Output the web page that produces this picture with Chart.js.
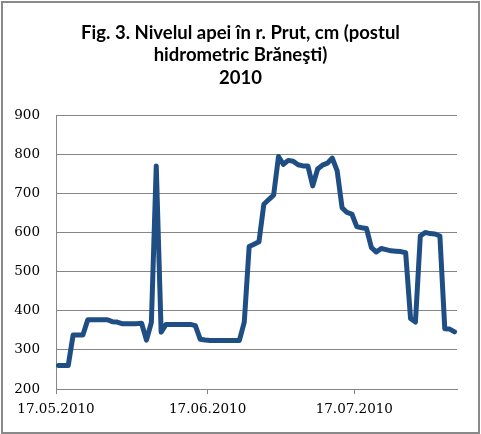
<!DOCTYPE html>
<html>
<head>
<meta charset="utf-8">
<script src="https://cdn.jsdelivr.net/npm/chart.js@4"></script>
<style>
  html, body { margin: 0; padding: 0; background: #fff; }
  canvas { display: block; }
</style>
</head>
<body>
<canvas id="c" width="481" height="434"></canvas>
<script>
// Daily water level (cm), starting 17.05.2010
const startDate = '17.05.2010';
const levels = [
  260, 260, 260, 338, 338, 338, 377, 377, 377, 377,
  377, 372, 371, 367, 367, 367, 367, 368, 325, 370,
  770, 345, 365, 365, 365, 365, 365, 365, 362, 327,
  325, 324, 324, 324, 324, 324, 324, 324, 371, 564,
  570, 576, 672, 684, 695, 794, 774, 784, 782, 773,
  770, 770, 719, 762, 772, 777, 790, 757, 663, 651,
  647, 615, 612, 610, 561, 550, 559, 556, 553, 552,
  551, 548, 380, 371, 591, 600, 597, 596, 591, 354,
  353, 346
];
const tickDays = [0, 31, 61];
const tickLabels = ['17.05.2010', '17.06.2010', '17.07.2010'];
const yTicks = [200, 300, 400, 500, 600, 700, 800, 900];
const titleLines = ['Fig. 3. Nivelul apei în r. Prut, cm (postul', 'hidrometric Brăneşti)', '2010'];

const points = levels.map((v, i) => ({ x: i + 0.5, y: v }));

const frame = {
  id: 'frame',
  afterDraw(chart) {
    const ctx = chart.ctx;
    ctx.save();
    // title, centered on the whole picture
    ctx.fillStyle = '#000';
    ctx.font = 'bold 18.5px Lato';
    ctx.textAlign = 'center';
    ctx.textBaseline = 'alphabetic';
    titleLines.forEach((t, i) => ctx.fillText(t, chart.width / 2, 38.5 + i * 22.5));
    // outer frame
    ctx.strokeStyle = '#898989';
    ctx.lineWidth = 2;
    ctx.strokeRect(2, 2, 477, 431);
    ctx.restore();
  }
};

new Chart(document.getElementById('c'), {
  type: 'line',
  data: {
    datasets: [{
      data: points,
      borderColor: '#1F4E84',
      borderWidth: 5,
      pointRadius: 0,
      tension: 0,
      fill: false,
      borderJoinStyle: 'round',
      borderCapStyle: 'round'
    }]
  },
  options: {
    responsive: false,
    animation: false,
    devicePixelRatio: 1,
    layout: { padding: { left: 0, right: 24, top: 115, bottom: 0 } },
    plugins: {
      legend: { display: false },
      tooltip: { enabled: false },
      title: { display: false }
    },
    scales: {
      x: {
        type: 'linear',
        min: 0,
        max: levels.length,
        afterBuildTicks(scale) {
          scale.ticks = tickDays.map(v => ({ value: v }));
        },
        afterFit(scale) { scale.height = 45; },
        ticks: {
          autoSkip: false,
          maxRotation: 0,
          padding: 7,
          color: '#000',
          font: { family: 'DejaVu Serif', size: 13.5 },
          callback(value) {
            const i = tickDays.indexOf(value);
            return i >= 0 ? tickLabels[i] : '';
          }
        },
        grid: {
          drawOnChartArea: false,
          drawTicks: true,
          tickLength: 5,
          color: '#868686'
        },
        border: { display: true, color: '#868686', width: 1 }
      },
      y: {
        min: 200,
        max: 900,
        afterBuildTicks(scale) {
          scale.ticks = yTicks.map(v => ({ value: v }));
        },
        afterFit(scale) { scale.width = 56; },
        ticks: {
          padding: 16,
          color: '#000',
          font: { family: 'DejaVu Serif', size: 13.5 }
        },
        grid: {
          drawTicks: false,
          color: '#868686',
          lineWidth: 1
        },
        border: { display: true, color: '#868686', width: 1 }
      }
    }
  },
  plugins: [frame]
});
</script>
</body>
</html>
